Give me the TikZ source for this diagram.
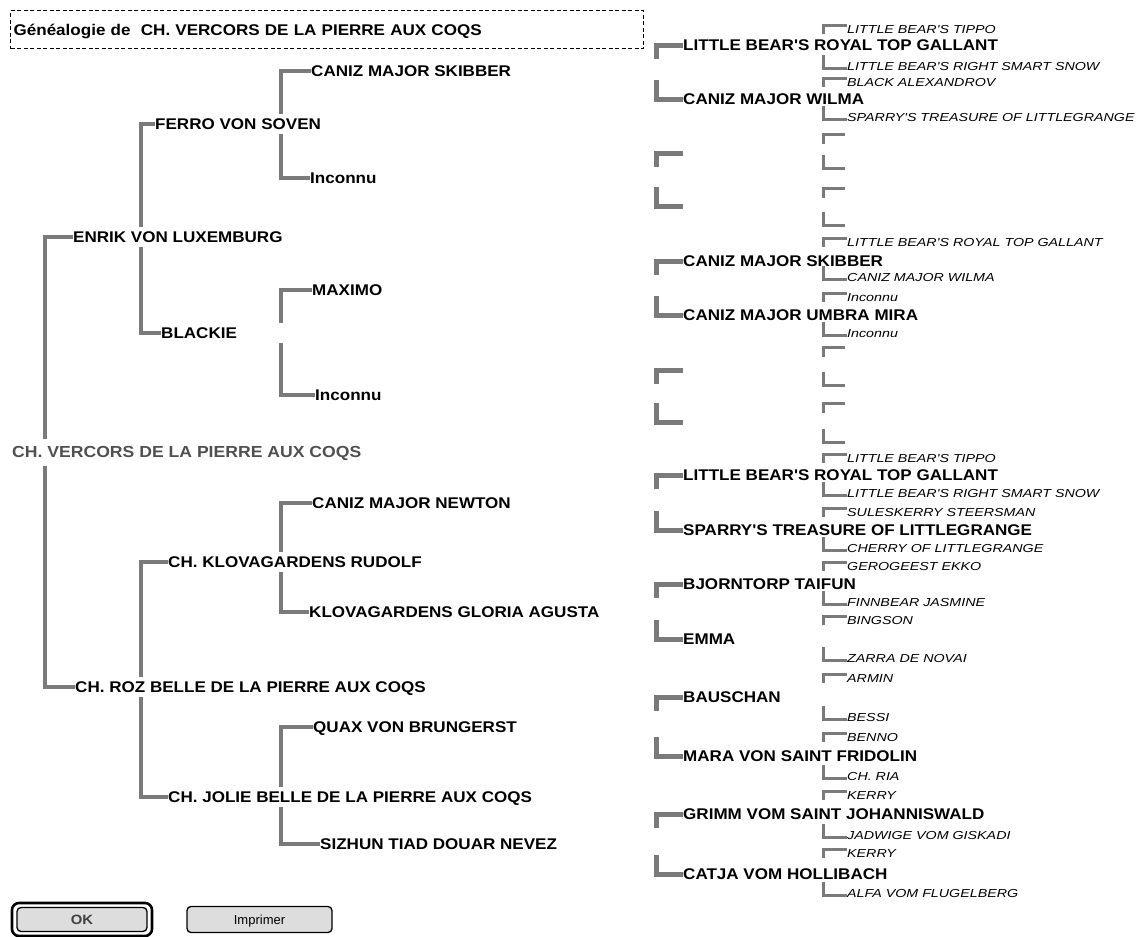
\documentclass[tikz,border=0pt]{standalone}
\usepackage{fontspec}
\setmainfont{Liberation Sans}
\newfontfamily\bfnt[FakeStretch=1.1]{Liberation Sans}
\newfontfamily\itfnt[FakeStretch=1.23]{Liberation Sans}
\usetikzlibrary{calc}
\pgfdeclarelayer{bg}
\pgfsetlayers{bg,main}
\definecolor{linegray}{HTML}{7A7A7A}
\definecolor{rootgray}{HTML}{505050}
\definecolor{btngray}{HTML}{DDDDDD}
\tikzset{
 big/.style={anchor=west, inner xsep=0pt, inner ysep=0pt,
   font=\bfnt\bfseries\fontsize{15.5}{18}\selectfont, text height=11pt, text depth=0pt},
 tree/.style={big, fill=white, minimum height=20pt},
 rootlbl/.style={tree, text=rootgray, minimum height=27pt,
   font=\bfnt\bfseries\fontsize{16}{18}\selectfont, text height=11.5pt},
 small/.style={anchor=west, inner xsep=0pt, inner ysep=0pt,
   font=\itfnt\itshape\fontsize{11.6}{14}\selectfont, text height=8.3pt, text depth=0pt},
 link/.style={draw=linegray, line width=4.5pt},
 linkg/.style={draw=linegray, line width=5pt},
 linkh/.style={draw=linegray, line width=3pt},
 titlebox/.style={draw=black, dash pattern=on 4pt off 2.5pt, line width=1.2pt,
   minimum height=38pt, text width=627pt, align=left, inner xsep=3pt, inner ysep=0pt,
   font=\bfnt\bfseries\fontsize{15.5}{18}\selectfont, text height=11pt, text depth=0pt},
 okring/.style={draw=black, line width=2.6pt, rounded corners=7pt,
   minimum width=140pt, minimum height=33pt, inner sep=0pt},
 btn/.style={draw=black, line width=1.3pt, fill=btngray, rounded corners=4pt,
   inner sep=0pt, font=\fontsize{13}{15}\selectfont, text height=9.5pt, text depth=0pt},
}
\begin{document}
\begin{tikzpicture}[x=1pt,y=-1pt]
\begin{pgfonlayer}{bg}
\fill[white] (0,0) rectangle (1141,937);
\end{pgfonlayer}
\useasboundingbox (0,0) rectangle (1141,937);

% title
\node[titlebox, anchor=north west] (title) at (10,10) {Généalogie de~\ CH. VERCORS DE LA PIERRE AUX COQS};

% left tree
\node[rootlbl] (root) at (12,452) {CH. VERCORS DE LA PIERRE AUX COQS};
\node[tree] (enrik) at (73,237) {ENRIK VON LUXEMBURG};
\node[tree] (roz) at (75,687) {CH. ROZ BELLE DE LA PIERRE AUX COQS};
\node[tree] (ferro) at (155,124) {FERRO VON SOVEN};
\node[tree, text width=150pt, align=left] (blackie) at (161,333) {BLACKIE};
\node[tree] (klov) at (168,562) {CH. KLOVAGARDENS RUDOLF};
\node[tree] (jolie) at (168,797) {CH. JOLIE BELLE DE LA PIERRE AUX COQS};
\node[tree] (skib) at (311,71) {CANIZ MAJOR SKIBBER};
\node[tree] (inc1) at (310,178) {Inconnu};
\node[tree] (maximo) at (312,290) {MAXIMO};
\node[tree] (inc2) at (315,395) {Inconnu};
\node[tree] (newton) at (312,503) {CANIZ MAJOR NEWTON};
\node[tree] (gloria) at (309,612) {KLOVAGARDENS GLORIA AGUSTA};
\node[tree] (quax) at (313,727) {QUAX VON BRUNGERST};
\node[tree] (sizhun) at (320,844) {SIZHUN TIAD DOUAR NEVEZ};

\begin{pgfonlayer}{bg}
\coordinate (v0) at (45,452);
\draw[link] (enrik.west) -| (v0) |- (roz.west);
\coordinate (v1) at (141,237);
\draw[link] (ferro.west) -| (v1) |- (blackie.west);
\coordinate (v2) at (141,687);
\draw[link] (klov.west) -| (v2) |- (jolie.west);
\coordinate (v3) at (281,124);
\draw[link] (skib.west) -| (v3) |- (inc1.west);
\coordinate (v4) at (281,333);
\draw[link] (maximo.west) -| (v4) |- (inc2.west);
\coordinate (v5) at (281,562);
\draw[link] (newton.west) -| (v5) |- (gloria.west);
\coordinate (v6) at (281,797);
\draw[link] (quax.west) -| (v6) |- (sizhun.west);
\end{pgfonlayer}

% right column, generation 4
\foreach \n/\y/\t in {u1/45/LITTLE BEAR'S ROYAL TOP GALLANT, u2/261/CANIZ MAJOR SKIBBER,
  u3/475/LITTLE BEAR'S ROYAL TOP GALLANT, u4/584/BJORNTORP TAIFUN, u5/697/BAUSCHAN,
  u6/814/GRIMM VOM SAINT JOHANNISWALD}{
  \node[big] (\n) at (683,\y) {\t};
  \coordinate (\n c) at (656,\y+14);
  \draw[linkg] (\n c) |- (\n.west);
}
\foreach \n/\y/\t in {l1/99/CANIZ MAJOR WILMA, l2/315/CANIZ MAJOR UMBRA MIRA,
  l3/530/SPARRY'S TREASURE OF LITTLEGRANGE, l4/639/EMMA, l5/756/MARA VON SAINT FRIDOLIN,
  l6/874/CATJA VOM HOLLIBACH}{
  \node[big] (\n) at (683,\y) {\t};
  \coordinate (\n c) at (656,\y-19);
  \draw[linkg] (\n c) |- (\n.west);
}
\foreach \n/\y in {eu1/153, eu2/370}{
  \coordinate (\n a) at (683,\y);
  \coordinate (\n b) at (656,\y+14);
  \draw[linkg] (\n b) |- (\n a);
}
\foreach \n/\y in {el1/206, el2/422}{
  \coordinate (\n a) at (683,\y);
  \coordinate (\n b) at (656,\y-19);
  \draw[linkg] (\n b) |- (\n a);
}

% right column, generation 5
\foreach \n/\y/\t in {t1/29/LITTLE BEAR'S TIPPO, t2/82/BLACK ALEXANDROV,
  t3/242/LITTLE BEAR'S ROYAL TOP GALLANT, t4/297/Inconnu, t5/458/LITTLE BEAR'S TIPPO,
  t6/512/SULESKERRY STEERSMAN, t7/566/GEROGEEST EKKO, t8/620/BINGSON, t9/678/ARMIN,
  t10/737/BENNO, t11/795/KERRY, t12/853/KERRY}{
  \node[small] (\n) at (847,\y) {\t};
  \coordinate (\n c) at (823,\y+5);
  \draw[linkh] (\n c) |- ([yshift=4pt]\n.west);
}
\foreach \n/\y/\t in {b1/66/LITTLE BEAR'S RIGHT SMART SNOW, b2/117/SPARRY'S TREASURE OF LITTLEGRANGE,
  b3/277/CANIZ MAJOR WILMA, b4/333/Inconnu, b5/493/LITTLE BEAR'S RIGHT SMART SNOW,
  b6/548/CHERRY OF LITTLEGRANGE, b7/602/FINNBEAR JASMINE, b8/658/ZARRA DE NOVAI,
  b9/717/BESSI, b10/776/CH. RIA, b11/835/JADWIGE VOM GISKADI, b12/893/ALFA VOM FLUGELBERG}{
  \node[small] (\n) at (847,\y) {\t};
  \coordinate (\n c) at (823,\y-11);
  \draw[linkh] (\n c) |- ([yshift=-2pt]\n.west);
}
\foreach \n/\y in {et1/134, et2/188, et3/347, et4/403}{
  \coordinate (\n a) at (845,\y);
  \coordinate (\n b) at (823,\y+10);
  \draw[linkh] (\n b) |- (\n a);
}
\foreach \n/\y in {eb1/168, eb2/225, eb3/385, eb4/442}{
  \coordinate (\n a) at (845,\y);
  \coordinate (\n b) at (823,\y-13);
  \draw[linkh] (\n b) |- (\n a);
}

% buttons
\node[okring] (okr) at (82,919.5) {};
\node[btn, minimum width=130pt, minimum height=24pt, font=\bfnt\bfseries\fontsize{13.5}{15}\selectfont, text=black!75] (ok) at (82,919.5) {OK};
\node[btn, minimum width=145pt, minimum height=26pt] (impr) at (259.5,919.5) {Imprimer};
\end{tikzpicture}
\end{document}
